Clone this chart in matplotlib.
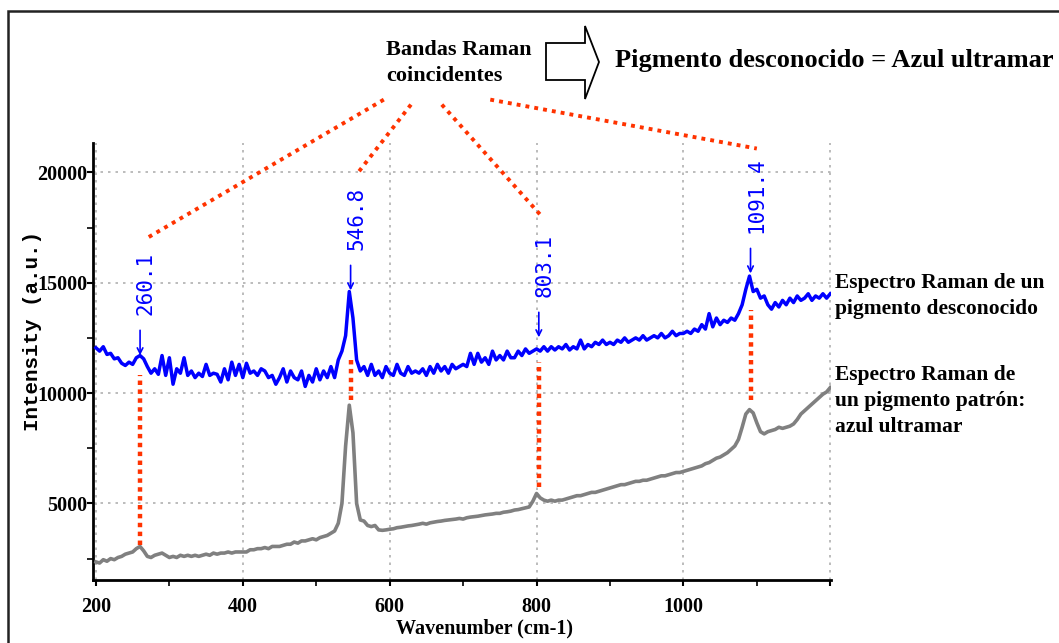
import numpy as np
import matplotlib
matplotlib.use("Agg")
import matplotlib.pyplot as plt
from matplotlib.patches import Polygon, Rectangle

# Raman spectra, sampled every 5 cm-1 from 200 to 1200
wavenumber = np.arange(200, 1201, 5)

unknown_pigment = [
    12050, 11900, 12100, 11750, 11800, 11550, 11600, 11350, 11250, 11400,  # 200-245
    11300, 11600, 11700, 11550, 11200, 10900, 11100, 10850, 11700, 10800,  # 250-295
    11600, 10400, 11100, 10900, 11600, 10800, 11000, 10700, 10900, 10750,  # 300-345
    11300, 10800, 10900, 10850, 10500, 11100, 10600, 11400, 10800, 11300,  # 350-395
    10700, 11350, 10900, 11000, 10800, 11100, 11000, 10700, 10800, 10400,  # 400-445
    10700, 11100, 10500, 11000, 10700, 10600, 11000, 10300, 10800, 10500,  # 450-495
    11100, 10600, 11000, 10700, 11200, 10700, 11500, 11900, 12600, 14600,  # 500-545
    13400, 11500, 11000, 11200, 10800, 11300, 10800, 11000, 10700, 11200,  # 550-595
    10900, 10800, 11300, 10900, 10800, 11200, 10900, 11000, 10900, 11100,  # 600-645
    10800, 11200, 10900, 11300, 11000, 11200, 10900, 11300, 11100, 11200,  # 650-695
    11300, 11200, 11800, 11300, 11800, 11400, 11600, 11300, 11900, 11500,  # 700-745
    11700, 11500, 11900, 11600, 11600, 11900, 11700, 12000, 11800, 11900,  # 750-795
    12000, 11900, 12100, 11900, 12100, 11950, 12100, 12000, 12200, 11950,  # 800-845
    12100, 12000, 12400, 12000, 12200, 12100, 12300, 12200, 12400, 12200,  # 850-895
    12300, 12200, 12400, 12300, 12500, 12300, 12400, 12500, 12400, 12600,  # 900-945
    12400, 12500, 12600, 12500, 12700, 12500, 12600, 12800, 12600, 12700,  # 950-995
    12700, 12800, 12700, 12900, 12800, 13100, 12900, 13600, 13000, 13400,  # 1000-1045
    13100, 13300, 13200, 13400, 13300, 13600, 14000, 14700, 15300, 14600,  # 1050-1095
    14700, 14300, 14400, 14000, 13800, 14100, 13900, 14200, 14000, 14300,  # 1100-1145
    14100, 14400, 14200, 14300, 14500, 14200, 14400, 14300, 14500, 14300,  # 1150-1195
    14500,                                                                  # 1200
]

reference_pigment = [
    2350, 2300, 2450, 2380, 2500, 2450, 2550, 2600, 2700, 2750,  # 200-245
    2800, 2950, 3050, 2850, 2600, 2550, 2650, 2700, 2750, 2650,  # 250-295
    2550, 2600, 2550, 2650, 2600, 2650, 2600, 2650, 2600, 2650,  # 300-345
    2700, 2650, 2750, 2700, 2750, 2750, 2800, 2750, 2800, 2800,  # 350-395
    2800, 2800, 2900, 2900, 2950, 2950, 3000, 2950, 3050, 3050,  # 400-445
    3050, 3100, 3150, 3150, 3250, 3200, 3300, 3300, 3350, 3400,  # 450-495
    3350, 3450, 3500, 3550, 3650, 3750, 4100, 5000, 7600, 9450,  # 500-545
    8200, 5000, 4250, 4200, 4000, 3950, 4000, 3800, 3780, 3800,  # 550-595
    3830, 3850, 3900, 3920, 3950, 3980, 4000, 4030, 4060, 4100,  # 600-645
    4060, 4120, 4150, 4180, 4200, 4230, 4250, 4270, 4290, 4320,  # 650-695
    4290, 4350, 4380, 4400, 4420, 4450, 4480, 4500, 4520, 4550,  # 700-745
    4550, 4600, 4620, 4650, 4700, 4720, 4760, 4800, 4840, 5100,  # 750-795
    5450, 5250, 5150, 5100, 5150, 5100, 5150, 5150, 5200, 5250,  # 800-845
    5300, 5350, 5350, 5400, 5450, 5500, 5500, 5550, 5600, 5650,  # 850-895
    5700, 5750, 5800, 5850, 5850, 5900, 5950, 6000, 6000, 6050,  # 900-945
    6050, 6100, 6150, 6200, 6250, 6250, 6300, 6350, 6400, 6400,  # 950-995
    6450, 6500, 6550, 6600, 6650, 6700, 6800, 6850, 6950, 7050,  # 1000-1045
    7100, 7200, 7300, 7450, 7600, 7900, 8450, 9050, 9250, 9100,  # 1050-1095
    8650, 8250, 8150, 8250, 8300, 8350, 8450, 8400, 8450, 8500,  # 1100-1145
    8600, 8800, 9050, 9200, 9350, 9500, 9650, 9800, 9950, 10050,  # 1150-1195
    10250,                                                        # 1200
]

# coincident Raman bands: label, position, arrow tip intensity
band_labels = ["260.1", "546.8", "803.1", "1091.4"]
band_positions = [260.1, 546.8, 803.1, 1091.4]
band_tips = [11711, 14653, 12526, 15422]
# red dotted connectors between both spectra (bottom, top)
connector_low = [3114, 9675, 5738, 9675]
connector_high = [10806, 11485, 11395, 13748]
# dotted leader lines from the caption to each band label
leader_start = [(592, 23295), (629, 23069), (671, 23069), (737, 23295)]
leader_end = [(271, 17051), (557, 19992), (806, 18046), (1100, 21078)]

BLUE = "#0000ff"
GRAY = "#808080"
RED = "#ff3300"
SERIF = "Liberation Serif"

W, H = 1059, 643
fig = plt.figure(figsize=(W / 100, H / 100), dpi=100, facecolor="white")


def fx(px):
    return px / W


def fy(py):
    return 1 - py / H


ax = fig.add_axes([fx(93), fy(580), fx(831) - fx(93), fy(143) - fy(580)])
ax.set_xlim(196, 1201)
ax.set_ylim(1530, 21330)

ax.plot(wavenumber, reference_pigment, color=GRAY, lw=2.6, zorder=3)
ax.plot(wavenumber, unknown_pigment, color=BLUE, lw=2.5, zorder=3)

for spine in ("top", "right"):
    ax.spines[spine].set_visible(False)
for spine in ("left", "bottom"):
    ax.spines[spine].set_linewidth(2)

ax.set_xticks([200, 400, 600, 800, 1000, 1200])
ax.set_xticklabels(["200", "400", "600", "800", "1000", ""])
ax.set_xticks([300, 500, 700, 900, 1100], minor=True)
ax.set_yticks([5000, 10000, 15000, 20000])
ax.set_yticks([2500, 7500, 12500, 17500], minor=True)
ax.tick_params(which="major", direction="out", length=4, width=1.5)
ax.tick_params(which="minor", direction="out", length=4, width=1.2)
ax.tick_params(axis="x", pad=8)
ax.tick_params(axis="y", pad=0)
for lab in ax.get_xticklabels() + ax.get_yticklabels():
    lab.set_fontfamily(SERIF)
    lab.set_fontweight("bold")
    lab.set_fontsize(14.5)
ax.grid(True, which="major", color="#b0b0b0", linestyle=(0, (1.5, 3)), lw=1.2)

ax.set_xlabel("Wavenumber (cm-1)", fontfamily=SERIF, fontweight="bold", fontsize=14.5)
ax.xaxis.set_label_coords(0.53, -0.087)
ax.set_ylabel("Intensity (a.u.)", fontfamily="Liberation Mono", fontweight="bold", fontsize=15)
ax.yaxis.set_label_coords(-0.069, 0.57)

# band arrows and labels
for lab, pos, tip in zip(band_labels, band_positions, band_tips):
    ax.annotate("", xy=(pos, tip), xytext=(0, 18), textcoords="offset points",
                arrowprops=dict(arrowstyle="->", color=BLUE, lw=1.2,
                                shrinkA=0, shrinkB=0), zorder=5)
    ax.annotate(lab, xy=(pos, tip), xytext=(4, 29), textcoords="offset points",
                rotation=90, ha="center", va="bottom", color=BLUE,
                fontfamily="DejaVu Sans Mono", fontsize=15, zorder=5)

# vertical dotted connectors
for pos, lo, hi in zip(band_positions, connector_low, connector_high):
    ax.plot([pos, pos], [lo, hi], color=RED, lw=3.2, linestyle=(0, (1, 1)), zorder=4)

# leader lines from caption
for (x0, y0), (x1, y1) in zip(leader_start, leader_end):
    ax.plot([x0, x1], [y0, y1], color=RED, lw=2.8, linestyle=(0, (1, 1.3)),
            clip_on=False, zorder=4)

# captions
fig.text(fx(386), fy(63), "Bandas Raman\ncoincidentes", fontfamily=SERIF,
         fontweight="bold", fontsize=16, ha="left", va="center", linespacing=1.35)
fig.text(fx(615), fy(60), "Pigmento desconocido = Azul ultramar", fontfamily=SERIF,
         fontweight="bold", fontsize=19, ha="left", va="center")
fig.text(fx(835), fy(296), "Espectro Raman de un\npigmento desconocido", fontfamily=SERIF,
         fontweight="bold", fontsize=15.5, ha="left", va="center", linespacing=1.4)
fig.text(fx(835), fy(401), "Espectro Raman de\nun pigmento patrón:\nazul ultramar", fontfamily=SERIF,
         fontweight="bold", fontsize=15.5, ha="left", va="center", linespacing=1.4)

# block arrow
arrow_px = [(546, 43), (585, 43), (585, 26), (599, 62), (585, 99), (585, 80), (546, 80)]
fig.patches.append(Polygon([(fx(a), fy(b)) for a, b in arrow_px], closed=True,
                           transform=fig.transFigure, facecolor="white",
                           edgecolor="black", lw=1.3))

# outer frame
fig.patches.append(Rectangle((fx(8), -0.1), 1.2, fy(11) + 0.1, transform=fig.transFigure,
                             facecolor="none", edgecolor="#222222", lw=1.8))

fig.savefig("out.png", dpi=100, facecolor="white")
